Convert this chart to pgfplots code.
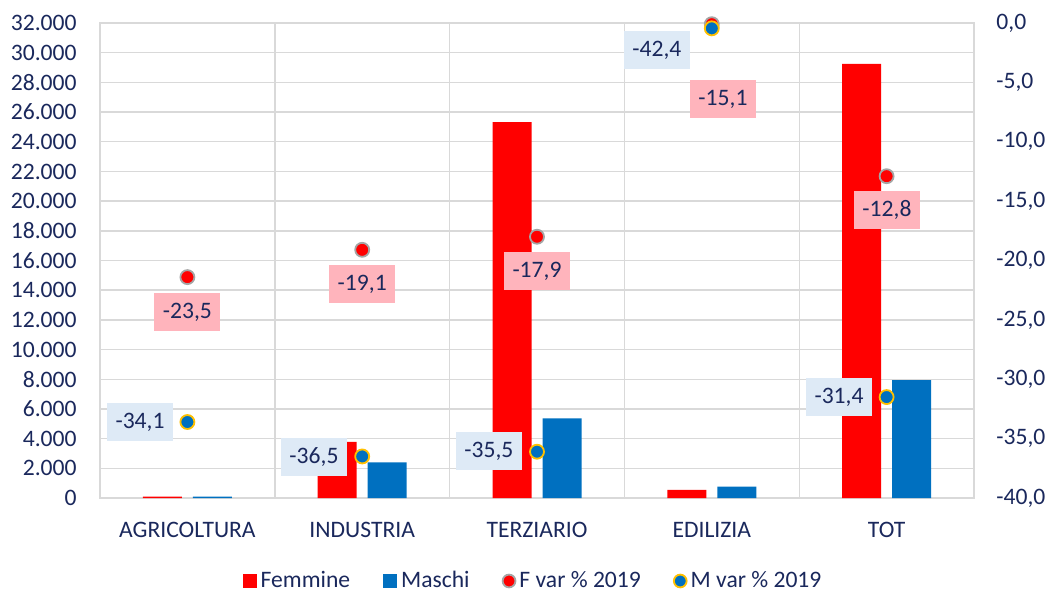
\documentclass[border=0pt]{standalone}
\usepackage{pgfplots}
\pgfplotsset{compat=1.18}
\usepackage{fontspec}
\setmainfont{Carlito}
\definecolor{txt}{RGB}{26,40,92}
\definecolor{grd}{RGB}{217,217,217}
\definecolor{fem}{RGB}{255,0,0}
\definecolor{mas}{RGB}{0,112,192}
\definecolor{fbox}{RGB}{255,180,188}
\definecolor{mbox}{RGB}{222,234,246}
\definecolor{fring}{RGB}{165,165,165}
\definecolor{mring}{RGB}{255,192,0}
\begin{document}
\fontsize{11.8}{14}\selectfont
\begin{tikzpicture}
\useasboundingbox (-50pt,-46.5pt) rectangle (474pt,249pt);
% ---------- bars, left axis ----------
\begin{axis}[
  at={(0pt,0pt)}, anchor=south west,
  scale only axis, width=437pt, height=237.5pt,
  xmin=-0.5, xmax=4.5, ymin=0, ymax=32000,
  ytick={0,2000,...,32000},
  xtick={0,1,2,3,4},
  xticklabels={AGRICOLTURA,INDUSTRIA,TERZIARIO,EDILIZIA,TOT},
  minor xtick={-0.5,0.5,1.5,2.5,3.5,4.5},
  ymajorgrids, xminorgrids,
  grid style={grd, line width=0.7pt},
  minor grid style={grd, line width=0.7pt},
  axis line style={grd, line width=0.7pt},
  major tick length=0pt, minor tick length=0pt,
  scaled y ticks=false,
  yticklabel style={anchor=east, inner sep=0pt, xshift=-11.5pt, text=txt,
    /pgf/number format/.cd, fixed, 1000 sep={.}, assume math mode=true},
  xticklabel style={anchor=north, inner sep=0pt, yshift=-12pt, text=txt},
]
\addplot[ybar, bar width=19.5pt, bar shift=-12.5pt, fill=fem, draw=none]
  coordinates {(0,100) (1,3790) (2,25320) (3,540) (4,29250)};
\addplot[ybar, bar width=19.5pt, bar shift=12.5pt, fill=mas, draw=none]
  coordinates {(0,100) (1,2400) (2,5370) (3,760) (4,7950)};
\end{axis}
% ---------- points, right axis ----------
\begin{axis}[
  at={(0pt,0pt)}, anchor=south west,
  scale only axis, width=437pt, height=237.5pt,
  xmin=-0.5, xmax=4.5, ymin=-40, ymax=0,
  axis x line=none, axis y line*=right,
  y axis line style={draw=none},
  ytick={-40,-35,...,0},
  major tick length=0pt,
  yticklabel style={anchor=west, inner sep=0pt, xshift=11pt, text=txt,
    /pgf/number format/.cd, fixed, fixed zerofill, precision=1, use comma, assume math mode=true},
  clip=false,
  legend columns=4,
  legend style={at={(rel axis cs:0.4966,-0.1747)}, anchor=center, draw=none, fill=none,
    text=txt, /tikz/every even column/.append style={column sep=14.5pt}},
]
\addlegendimage{legend image code/.code={\fill[fem] (0pt,-3.3pt) rectangle (6.6pt,3.3pt);}}
\addlegendentry{Femmine}
\addlegendimage{legend image code/.code={\fill[mas] (0pt,-3.3pt) rectangle (6.6pt,3.3pt);}}
\addlegendentry{Maschi}
\addplot[only marks, mark=*, mark size=3.5pt,
  mark options={fill=fem, draw=fring, line width=0.9pt},
  legend image code/.code={\draw plot[only marks, mark=*, mark size=3.2pt, mark options={fill=fem, draw=fring, line width=0.9pt}] coordinates {(3.3pt,0pt)};}]
  coordinates {(0,-21.4) (1,-19.1) (2,-18.0) (3,-0.1) (4,-12.9)};
\addlegendentry{F var \% 2019}
\addplot[only marks, mark=*, mark size=3.5pt,
  mark options={fill=mas, draw=mring, line width=0.9pt},
  legend image code/.code={\draw plot[only marks, mark=*, mark size=3.2pt, mark options={fill=mas, draw=mring, line width=0.9pt}] coordinates {(3.3pt,0pt)};}]
  coordinates {(0,-33.6) (1,-36.5) (2,-36.1) (3,-0.45) (4,-31.5)};
\addlegendentry{M var \% 2019}
% data labels
\tikzset{flab/.style={fill=fbox, text=txt, minimum width=33pt, minimum height=19pt, inner sep=0pt},
         mlab/.style={fill=mbox, text=txt, minimum width=33pt, minimum height=19pt, inner sep=0pt}}
\node[flab] at (axis cs:0,-24.34) {-23,5};
\node[flab] at (axis cs:1,-21.98) {-19,1};
\node[flab] at (axis cs:2,-20.88) {-17,9};
\node[flab] at (axis cs:3.064,-6.4) {-15,1};
\node[flab] at (axis cs:4.002,-15.75) {-12,8};
\node[mlab] at (axis cs:-0.271,-33.6) {-34,1};
\node[mlab] at (axis cs:0.724,-36.55) {-36,5};
\node[mlab] at (axis cs:1.725,-36.04) {-35,5};
\node[mlab] at (axis cs:2.686,-2.27) {-42,4};
\node[mlab] at (axis cs:3.728,-31.5) {-31,4};
\end{axis}
\end{tikzpicture}
\end{document}
